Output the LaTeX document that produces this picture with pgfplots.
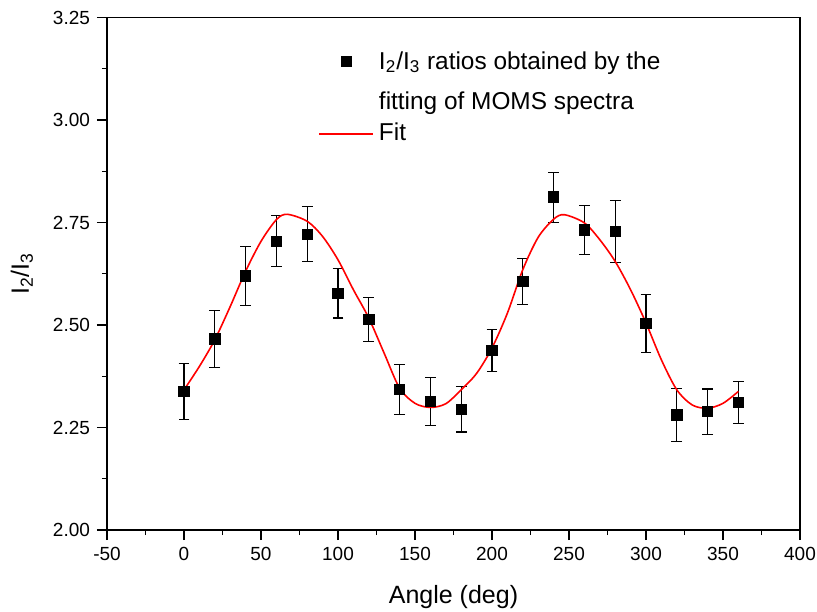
\documentclass[border=0pt]{standalone}
\usepackage{fontspec}
\setmainfont{Liberation Sans}
\usepackage{pgfplots}
\pgfplotsset{compat=1.18}
\pgfplotsset{fitleg/.style={legend image code/.code={\draw[##1, line width=0.8pt] (0pt,0pt) -- (27pt,0pt);}}}
\pgfplotsset{dataleg/.style={legend image code/.code={\path (0pt,0pt) (27pt,0pt); \draw[mark repeat=2,mark phase=2,##1] plot coordinates {(0pt,4.5pt) (13.5pt,4.5pt) (27pt,4.5pt)};}}}
\begin{document}
\begin{tikzpicture}
\begin{axis}[
  scale only axis,
  width=346.5pt, height=256.25pt,
  xmin=-50, xmax=400, ymin=2, ymax=3.25,
  xtick distance=50, ytick distance=0.25,
  minor tick num=1,
  tick align=outside, tick pos=left,
  major tick length=5pt, minor tick length=2.5pt,
  axis line style={line width=0.75pt},
  every tick/.style={black, line width=0.6pt},
  /pgf/number format/assume math mode=true,
  ticklabel style={font=\fontsize{9.5}{11}\selectfont},
  yticklabel style={/pgf/number format/.cd, fixed, fixed zerofill, precision=2},
  xticklabel style={/pgf/number format/.cd, fixed, precision=0},
  xlabel={Angle (deg)},
  ylabel={I\textsubscript{2}/I\textsubscript{3}},
  label style={font=\fontsize{12.5}{15}\selectfont},
  xlabel style={at={(axis description cs:0.5,-0.1307)}, anchor=center},
  ylabel style={at={(axis description cs:-0.1227,0.5)}, anchor=center},
  legend style={at={(axis cs:87,3.169)}, anchor=north west, draw=none, fill=none,
    inner sep=0pt, row sep=0pt, column sep=2.5pt,
    nodes={inner sep=0pt},
    font=\fontsize{12.2}{14}\selectfont},
  legend cell align=left,
]
\addplot+[only marks, mark=square*, black, mark options={black, fill=black}, mark size=2.6pt,
  dataleg,
  error bars/.cd, y dir=both, y explicit,
  error bar style={black, line width=0.55pt},
  error mark options={rotate=90, black, mark size=2.7pt, line width=0.55pt},
  ] table[x=x, y=y, y error=e] {
x y e
0 2.338 0.068
20 2.466 0.069
40 2.620 0.072
60 2.704 0.062
80 2.721 0.067
100 2.577 0.060
120 2.514 0.054
140 2.343 0.061
160 2.313 0.058
180 2.294 0.055
200 2.438 0.051
220 2.606 0.056
240 2.812 0.061
260 2.732 0.059
280 2.728 0.075
300 2.504 0.071
320 2.281 0.065
340 2.289 0.055
360 2.311 0.051
};
\addlegendentry[text height=9pt, text depth=10pt]{I\textsubscript{2}/I\textsubscript{3} ratios obtained by the}
\addlegendimage{empty legend}
\addlegendentry[text height=10pt, text depth=6.5pt]{fitting of MOMS spectra}
\addplot[red, line width=0.8pt, smooth, mark=none, fitleg] table {
0 2.342
10 2.399
20 2.464
30 2.545
40 2.631
50 2.704
60 2.757
67 2.770
80 2.753
90 2.716
100 2.659
110 2.586
120 2.517
130 2.431
140 2.346
150 2.309
160 2.299
170 2.308
180 2.342
190 2.382
200 2.444
210 2.529
220 2.635
230 2.714
240 2.758
247 2.769
260 2.749
270 2.708
280 2.655
290 2.586
300 2.505
310 2.415
320 2.342
330 2.305
340 2.297
350 2.309
360 2.338
};
\addlegendentry[text height=9pt, text depth=3pt]{Fit}
\end{axis}
\pgfresetboundingbox
\path[use as bounding box] (-53.5pt,-40.5pt) rectangle (355pt,265pt);
\end{tikzpicture}
\end{document}
